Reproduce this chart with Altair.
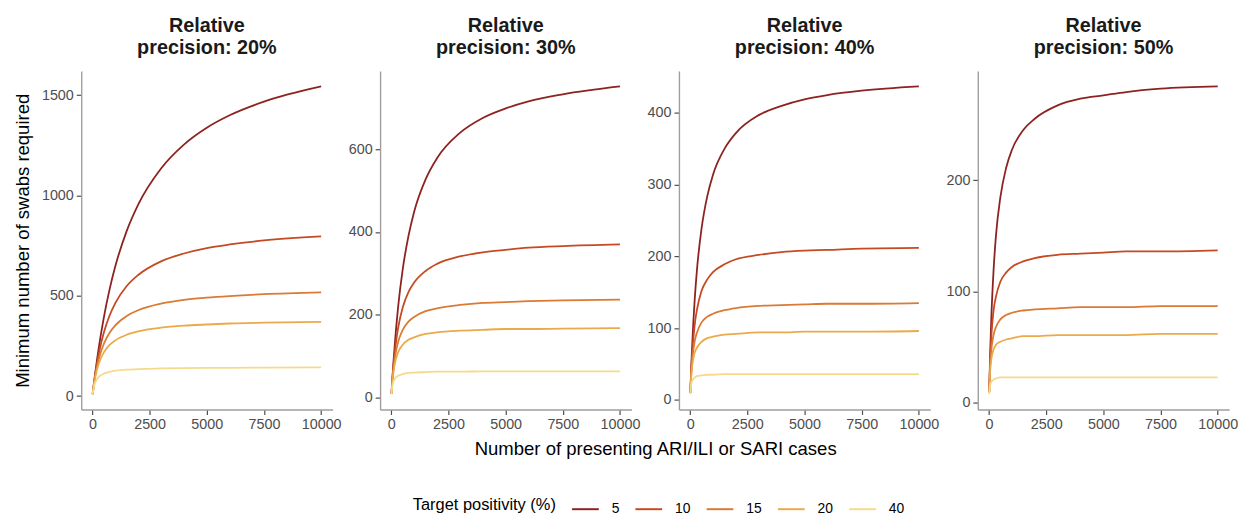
import altair as alt
import pandas as pd

# Number of presenting cases (x)
cases = [10, 50, 100, 200, 300, 500, 750, 1000, 1500, 2000, 3000, 4000, 5000, 6000, 7500, 10000]

positivity = ["5", "10", "15", "20", "40"]
precisions = [20, 30, 40, 50]

# Minimum number of swabs required (one list per positivity)
prec20 = {
    "5":  [10, 49, 95, 181, 258, 393, 532, 647, 824, 955, 1135, 1254, 1338, 1400, 1468, 1544],
    "10": [10, 48, 90, 163, 223, 317, 402, 464, 549, 604, 672, 711, 738, 756, 776, 796],
    "15": [10, 46, 85, 147, 194, 261, 316, 353, 400, 428, 461, 480, 491, 499, 508, 517],
    "20": [10, 45, 80, 132, 169, 218, 255, 278, 306, 323, 341, 351, 357, 362, 366, 370],
    "40": [10, 38, 60, 84, 98, 112, 121, 127, 132, 135, 138, 140, 141, 141, 142, 143],
}
prec30 = {
    "5":  [10, 48, 90, 161, 220, 310, 390, 449, 527, 578, 639, 675, 698, 715, 732, 751],
    "10": [10, 45, 80, 132, 169, 218, 255, 278, 306, 323, 341, 351, 357, 362, 366, 370],
    "15": [10, 42, 71, 110, 135, 164, 184, 195, 209, 216, 224, 229, 231, 233, 235, 237],
    "20": [10, 39, 64, 93, 110, 128, 140, 146, 154, 158, 162, 164, 166, 166, 167, 168],
    "40": [9, 29, 40, 49, 53, 57, 60, 61, 62, 63, 63, 64, 64, 64, 64, 64],
}
prec40 = {
    "5":  [10, 46, 83, 140, 182, 239, 284, 314, 350, 372, 397, 410, 419, 425, 431, 437],
    "10": [10, 41, 69, 105, 126, 152, 168, 178, 189, 196, 202, 206, 208, 209, 211, 212],
    "15": [10, 37, 58, 82, 94, 108, 116, 120, 125, 128, 131, 132, 133, 134, 134, 135],
    "20": [10, 34, 50, 66, 73, 81, 86, 88, 91, 92, 94, 94, 95, 95, 95, 96],
    "40": [8, 22, 27, 31, 33, 34, 35, 35, 36, 36, 36, 36, 36, 36, 36, 36],
}
prec50 = {
    "5":  [10, 43, 75, 119, 149, 185, 211, 227, 245, 255, 267, 273, 276, 279, 282, 284],
    "10": [10, 37, 59, 83, 95, 109, 117, 122, 127, 130, 133, 134, 135, 136, 136, 137],
    "15": [10, 32, 47, 61, 68, 75, 79, 81, 83, 84, 85, 86, 86, 86, 87, 87],
    "20": [9, 28, 39, 48, 52, 55, 57, 58, 60, 60, 61, 61, 61, 61, 62, 62],
    "40": [8, 16, 19, 21, 22, 23, 23, 23, 23, 23, 23, 23, 23, 23, 23, 23],
}
y_ticks = {
    20: [0, 500, 1000, 1500],
    30: [0, 200, 400, 600],
    40: [0, 100, 200, 300, 400],
    50: [0, 100, 200],
}
x_ticks = [0, 2500, 5000, 7500, 10000]

colors = ["#8C2320", "#C54A22", "#DA7A35", "#EBAA4A", "#F5DA8C"]
panel_data = {20: prec20, 30: prec30, 40: prec40, 50: prec50}

FONT = "Liberation Sans"


def expand(lo, hi, f=0.05):
    pad = (hi - lo) * f
    return [lo - pad, hi + pad]


color_enc = alt.Color(
    "positivity:N",
    sort=positivity,
    scale=alt.Scale(domain=positivity, range=colors),
    legend=alt.Legend(
        title="Target positivity (%)",
        orient="none",
        legendX=335,
        legendY=428,
        direction="horizontal",
        titleOrient="left",
        titleAnchor="middle",
        titleBaseline="middle",
        titleFontSize=16.6,
        titleFontWeight="normal",
        titleColor="#000000",
        titlePadding=15,
        labelFontSize=14,
        labelColor="#000000",
        labelOffset=12,
        columnPadding=12,
        symbolType="stroke",
        symbolSize=729,
        symbolStrokeWidth=2,
    ),
)

panels = []
for i, prec in enumerate(precisions):
    rows = []
    for pos in positivity:
        for n, s in zip(cases, panel_data[prec][pos]):
            rows.append({"cases": n, "swabs": s, "positivity": pos})
    df = pd.DataFrame(rows)
    ymin, ymax = df["swabs"].min(), df["swabs"].max()
    xdom = expand(min(cases), max(cases))
    ydom = expand(ymin, ymax)

    x_axis_kwargs = dict(values=x_ticks, format="d", title=None)
    if i == 1:
        x_axis_kwargs["title"] = "Number of presenting ARI/ILI or SARI cases"
        x_axis_kwargs["titleX"] = 278
    y_title = "Minimum number of swabs required" if i == 0 else None
    y_axis_kwargs = dict(values=y_ticks[prec], format="d", title=y_title)

    ch = alt.Chart(df).mark_line(strokeWidth=1.8, interpolate="monotone").encode(
        x=alt.X("cases:Q", scale=alt.Scale(domain=xdom, nice=False, zero=False),
                axis=alt.Axis(**x_axis_kwargs)),
        y=alt.Y("swabs:Q", scale=alt.Scale(domain=ydom, nice=False, zero=False),
                axis=alt.Axis(**y_axis_kwargs)),
        color=color_enc,
    ).properties(
        width=254,
        height=342,
        title=alt.TitleParams(["Relative", f"precision: {prec}%"], fontSize=20,
                              fontWeight="bold", anchor="middle", lineHeight=22,
                              offset=13, color="#1a1a1a", font=FONT),
    )
    panels.append(ch)

chart = alt.hconcat(*panels, spacing=48, bounds="flush").resolve_scale(
    x="independent", y="independent"
).properties(
    padding={"left": 5, "top": 6, "right": 5, "bottom": 5}
).configure(
    font=FONT, background="white"
).configure_view(
    stroke=None
).configure_axis(
    grid=False,
    domainColor="#9e9e9e",
    domainWidth=1.4,
    tickColor="#4d4d4d",
    tickWidth=1.2,
    tickSize=5,
    labelColor="#4d4d4d",
    labelFontSize=14.5,
    labelFont=FONT,
    titleFont=FONT,
    titleFontSize=18.7,
    titleFontWeight="normal",
    titleColor="#000000",
    labelPadding=3,
).configure_axisY(
    titlePadding=9,
).configure_axisX(
    titlePadding=9,
).configure_legend(
    labelFont=FONT, titleFont=FONT
)

chart.save("out.html", embed_options={"renderer": "svg", "actions": False})
